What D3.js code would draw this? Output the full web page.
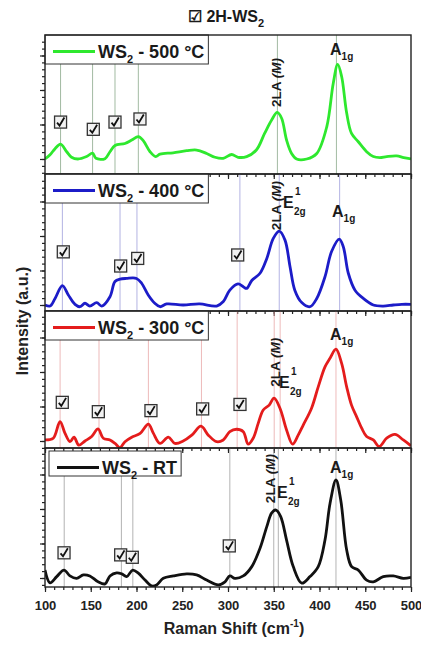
<!DOCTYPE html>
<html>
<head>
<meta charset="utf-8">
<script src="https://cdn.jsdelivr.net/npm/d3@7"></script>
<style>
body { margin: 0; background: #fff; }
svg { font-family: "Liberation Sans", Arial, sans-serif; }
</style>
</head>
<body>
<svg id="chart" width="421" height="652"></svg>
<script>
// x axis
const xDomain = [100, 500];
const xTicks = [100, 150, 200, 250, 300, 350, 400, 450, 500];

// spectra, [raman shift, intensity (a.u., baseline = 0)]
const ws500 = [[100,0],[105.5,0.12],[111,0.3],[117,0.43],[123.7,0.21],[129,0.05],[136,0],[145.5,0.07],[152,0.17],[155.7,0.02],
  [165.6,0.01],[171,0.21],[176.5,0.39],[187.4,0.45],[194.8,0.55],[202,0.65],[207.4,0.53],[214.8,0.21],[221,0.07],[225.7,0.14],
  [240,0.18],[254.8,0.24],[265.7,0.26],[276.7,0.16],[285.8,0.05],[294.7,0.02],[304,0.13],[311,0.05],[320.4,0.07],[331,0.26],
  [340,0.74],[347.7,1.13],[353.8,1.35],[358.6,1.18],[364,0.55],[369.5,0.16],[375,0],[386,0],[397,0.16],[408,0.94],
  [415,2.19],[419.9,2.74],[424.2,2.39],[429.7,1.33],[435,0.74],[442.4,0.5],[451.5,0.21],[458.8,0.07],[466,0.04],[473.4,0.07],
  [484.3,0.09],[492,0.04],[500,0]];
const ws400 = [[100,0],[105.5,-0.03],[111,0.19],[119,0.56],[125.5,0.29],[132.8,0.02],[138.3,-0.05],[143.7,0.05],[149,-0.03],[156.5,0.07],
  [162,-0.03],[171,0.24],[176.5,0.68],[182,0.75],[189,0.77],[200,0.77],[205.6,0.63],[212.8,0.29],[220,0.05],[225.7,-0.05],
  [233,0.03],[251,0],[269,0.03],[287.6,-0.03],[294.9,0.1],[302,0.43],[311,0.61],[316.7,0.53],[320.4,0.48],[326,0.71],
  [335,0.92],[342.4,1.35],[349.5,1.93],[356,2.14],[362.3,1.88],[367.8,1.11],[373,0.43],[380.6,0.07],[389.6,-0.05],[397,0.19],
  [406,0.82],[413.2,1.55],[421.6,1.91],[426,1.69],[431.5,0.92],[438.8,0.43],[447.9,0.19],[458.8,0],[469.7,-0.03],[480.6,0],
  [490,0.02],[500,0.02]];
const ws300 = [[100,0.03],[109,0.08],[116.4,0.56],[121.9,0.22],[127.3,-0.02],[131.7,0.11],[137,-0.12],[143.7,0],[151,0.13],[158,0.35],
  [163.7,0.08],[171,0.03],[176.5,-0.07],[182,-0.19],[187.4,-0.02],[194.8,0.11],[204,0.22],[213,0.49],[218.5,0.22],[225.7,-0.07],
  [234.8,0.11],[242,-0.07],[251,0],[260.4,0.17],[270.5,0.43],[278.5,0.17],[287.6,-0.02],[294.8,0.03],[302,0.27],[309.4,0.34],
  [316.7,0.27],[322,-0.09],[327.5,0.08],[333,0.51],[338.5,0.9],[345,1.04],[350.3,1.24],[356.8,0.95],[364,0.32],[370.6,-0.09],
  [376.7,0.17],[382.2,0.46],[391.3,0.95],[398.6,1.57],[406,2.15],[411.5,2.4],[418,2.66],[424.2,2.25],[429.7,1.57],[435,1.04],
  [440.6,0.7],[446.1,0.37],[451.5,0.13],[458.8,0.03],[465.3,-0.16],[473.4,0.08],[482.5,0.19],[491.6,0.03],[500,-0.14]];
const wsRT = [[100,0.23],[105.5,-0.14],[112.8,0.04],[120.8,0.23],[127.3,0.06],[134.6,-0.01],[141.9,0.09],[149,0.06],[158,-0.11],[165.6,-0.17],
  [171,0.06],[178.3,0.15],[183.8,0.12],[189.3,0.04],[195.8,0.23],[202,0.14],[209.3,-0.06],[216.6,-0.23],[222,-0.2],[229.3,-0.01],
  [240.3,0.06],[254.8,0.12],[265.7,0.09],[276.7,-0.06],[289.4,-0.2],[296.7,-0.11],[302,0.06],[307.6,-0.01],[316.7,0.06],[326,0.33],
  [335,0.86],[342.4,1.49],[347.8,1.89],[352.5,1.97],[357.6,1.78],[364,1.1],[371.3,0.33],[380.6,-0.15],[389.6,0.04],[398.6,0.33],
  [406,1.1],[411.5,2.16],[418,2.84],[423.2,2.26],[429.7,0.81],[435.1,0.33],[442.4,0.23],[451.5,-0.06],[458.8,-0.11],[469.7,0.04],
  [480.6,0.06],[491.6,-0.01],[500,0.02]];

// legend labels
const temps = ["500 °C", "400 °C", "300 °C", "RT"];

// reference lines (cm-1) and 2H-WS2 check marks [cm-1, intensity]
const lines500 = [117, 152, 176.5, 202, 354, 418.5];
const lines400 = [119, 182, 200.5, 313, 356, 422];
const lines300 = [116.5, 159, 213, 271, 310, 350.5, 357, 418];
const linesRT = [121, 183.5, 196, 302, 350, 355, 418];
const checks500 = [[117,1.07],[152.8,0.86],[176.5,1.07],[203.8,1.16]];
const checks400 = [[120,1.54],[182.7,1.13],[201.3,1.35],[310.6,1.45]];
const checks300 = [[118.9,1.12],[158.3,0.85],[215.8,0.88],[272.3,0.93],[313.1,1.06]];
const checksRT = [[120.8,0.73],[182.7,0.67],[195.4,0.6],[301.4,0.93]];

// mode labels [cm-1, intensity]
const la500 = [357.9,1.51], la400 = [357.9,2.17], la300 = [356.8,1.57], laRT = [351.4,2.17];
const e400 = [360.1,2.81], e300 = [355.7,1.54], eRT = [353.6,2.32];
const a500 = [411.5,3.01], a400 = [413.7,2.55], a300 = [411.5,2.93], aRT = [411.5,3.04];

const panels = [
  {data: ws500, temp: temps[0], lines: lines500, checks: checks500, la: la500, e: null, a: a500,
   color: "#2ee82e", ref: "#8aa88a", top: 35, bottom: 174, dom: [-0.435, 3.594], leg: [0, 0]},
  {data: ws400, temp: temps[1], lines: lines400, checks: checks400, la: la400, e: e400, a: a400,
   color: "#1c1cc8", ref: "#a0a0dc", top: 174, bottom: 311, dom: [-0.174, 3.797], leg: [0, 0]},
  {data: ws300, temp: temps[2], lines: lines300, checks: checks300, la: la300, e: e300, a: a300,
   color: "#e41c1c", ref: "#e8a8a8", top: 311, bottom: 448, dom: [-0.203, 3.768], leg: [0, 0]},
  {data: wsRT, temp: temps[3], lines: linesRT, checks: checksRT, la: laRT, e: eRT, a: aRT,
   color: "#111111", ref: "#a0a0a0", top: 448, bottom: 587, dom: [-0.261, 3.768], leg: [4, 3]}
];

const svg = d3.select("#chart");
const left = 45, right = 411;
const ink = "#1a1a1a";

const x = d3.scaleLinear().domain(xDomain).range([left, right]);

svg.append("text")
    .attr("x", 226).attr("y", 22)
    .attr("text-anchor", "middle")
    .attr("font-size", 16).attr("font-weight", "bold").attr("fill", ink)
    .call(t => {
        t.append("tspan").text("☑ 2H-WS");
        t.append("tspan").attr("font-size", 11).attr("dy", 5).text("2");
    });

panels.forEach((p, i) => {
    const y = d3.scaleLinear().domain(p.dom).range([p.bottom, p.top]);
    const g = svg.append("g");
    const last = i === panels.length - 1;

    g.append("clipPath").attr("id", "clip" + i)
        .append("rect")
        .attr("x", left).attr("y", p.top)
        .attr("width", right - left).attr("height", p.bottom - p.top);

    // legend box first, so we know where the lines start
    const legX = left + p.leg[0], legY = p.top + p.leg[1];
    const legend = g.append("g");
    const lt = legend.append("text")
        .attr("x", legX + 53).attr("y", legY + 23)
        .attr("font-size", 18).attr("font-weight", "bold").attr("fill", ink);
    lt.append("tspan").text("WS");
    lt.append("tspan").attr("font-size", 11).attr("dy", 5).text("2");
    lt.append("tspan").attr("dy", -5).text(" - " + p.temp);
    const legW = lt.node().getComputedTextLength() + 57;
    const legH = 29 - p.leg[1] + (p.leg[0] ? -1 : 0);
    legend.insert("rect", "text")
        .attr("x", legX).attr("y", legY)
        .attr("width", legW).attr("height", legH)
        .attr("fill", "#fff").attr("stroke", "#333").attr("stroke-width", 1);
    legend.append("line")
        .attr("x1", legX + 8).attr("x2", legX + 50)
        .attr("y1", legY + 16.5).attr("y2", legY + 16.5)
        .attr("stroke", p.color).attr("stroke-width", 3);

    g.insert("g", "g")
        .selectAll("line")
        .data(p.lines)
        .join("line")
        .attr("x1", d => x(d)).attr("x2", d => x(d))
        .attr("y1", d => x(d) < legX + legW ? legY + legH : p.top)
        .attr("y2", p.bottom)
        .attr("stroke", p.ref).attr("stroke-width", 0.8);

    g.append("path")
        .datum(p.data)
        .attr("clip-path", `url(#clip${i})`)
        .attr("fill", "none")
        .attr("stroke", p.color)
        .attr("stroke-width", 2.8)
        .attr("stroke-linejoin", "round")
        .attr("d", d3.line().x(d => x(d[0])).y(d => y(d[1])).curve(d3.curveCatmullRom.alpha(0.5)));

    // check marks
    const ck = g.append("g").selectAll("g")
        .data(p.checks)
        .join("g")
        .attr("transform", d => `translate(${x(d[0])},${y(d[1])})`);
    ck.append("rect")
        .attr("x", -6).attr("y", -6).attr("width", 12).attr("height", 12)
        .attr("fill", "#f2f2f2").attr("stroke", "#333").attr("stroke-width", 1.3);
    ck.append("path")
        .attr("d", "M-3.5,0.5 L-1,3.5 L3.8,-4.5")
        .attr("fill", "none").attr("stroke", "#111").attr("stroke-width", 1.8);

    // 2LA (M)
    const la = g.append("text")
        .attr("transform", `translate(${x(p.la[0])},${y(p.la[1])}) rotate(-90)`)
        .attr("font-size", 13.5).attr("font-weight", "bold").attr("fill", ink);
    la.append("tspan").text("2LA ");
    la.append("tspan").attr("font-style", "italic").text("(M)");

    if (p.e) {
        const ex = x(p.e[0]), ey = y(p.e[1]);
        g.append("text").attr("x", ex).attr("y", ey).attr("font-size", 16).attr("font-weight", "bold").attr("fill", ink).text("E");
        g.append("text").attr("x", ex + 12).attr("y", ey - 13).attr("font-size", 10).attr("font-weight", "bold").attr("fill", ink).text("1");
        g.append("text").attr("x", ex + 11).attr("y", ey + 7).attr("font-size", 10).attr("font-weight", "bold").attr("fill", ink).text("2g");
    }

    const a = g.append("text")
        .attr("x", x(p.a[0])).attr("y", y(p.a[1]))
        .attr("font-size", 16).attr("font-weight", "bold").attr("fill", ink);
    a.append("tspan").text("A");
    a.append("tspan").attr("font-size", 10).attr("dy", 5).text("1g");

    // axes
    const yMinor = d3.range(-0.4, 3.81, 0.2).filter(v => v >= p.dom[0] && v <= p.dom[1]);
    g.append("g")
        .attr("transform", `translate(${left},0)`)
        .call(d3.axisLeft(y).tickValues(yMinor).tickSize(3).tickFormat(""))
        .call(s => s.select(".domain").remove());
    g.append("g")
        .attr("transform", `translate(${left},0)`)
        .call(d3.axisLeft(y).tickValues([0, 1, 2, 3]).tickSize(5).tickFormat(""))
        .call(s => s.select(".domain").remove());

    g.append("g")
        .attr("transform", `translate(0,${p.bottom})`)
        .call(d3.axisBottom(x).tickValues(d3.range(100, 501, 10)).tickSize(3).tickFormat(""))
        .call(s => s.select(".domain").remove());
    const xa = g.append("g")
        .attr("transform", `translate(0,${p.bottom})`)
        .call(d3.axisBottom(x).tickValues(xTicks).tickSize(5).tickFormat(last ? d3.format("d") : ""))
        .call(s => s.select(".domain").remove());
    xa.selectAll("text")
        .attr("font-size", 13).attr("font-weight", "bold")
        .attr("font-family", null).attr("fill", "#222")
        .attr("dy", null).attr("y", 23);

    g.selectAll(".tick line").attr("stroke", "#222").attr("stroke-width", 1.2);

    g.append("rect")
        .attr("x", left).attr("y", p.top)
        .attr("width", right - left).attr("height", p.bottom - p.top)
        .attr("fill", "none").attr("stroke", "#222").attr("stroke-width", 1.4);
});

svg.append("text")
    .attr("transform", "translate(28,321) rotate(-90)")
    .attr("text-anchor", "middle")
    .attr("font-size", 16).attr("font-weight", "bold").attr("fill", "#222")
    .text("Intensity (a.u.)");

svg.append("text")
    .attr("x", 234).attr("y", 634)
    .attr("text-anchor", "middle")
    .attr("font-size", 16).attr("font-weight", "bold").attr("fill", "#222")
    .call(t => {
        t.append("tspan").text("Raman Shift (cm");
        t.append("tspan").attr("font-size", 10).attr("dy", -7).text("-1");
        t.append("tspan").attr("dy", 7).text(")");
    });
</script>
</body>
</html>
